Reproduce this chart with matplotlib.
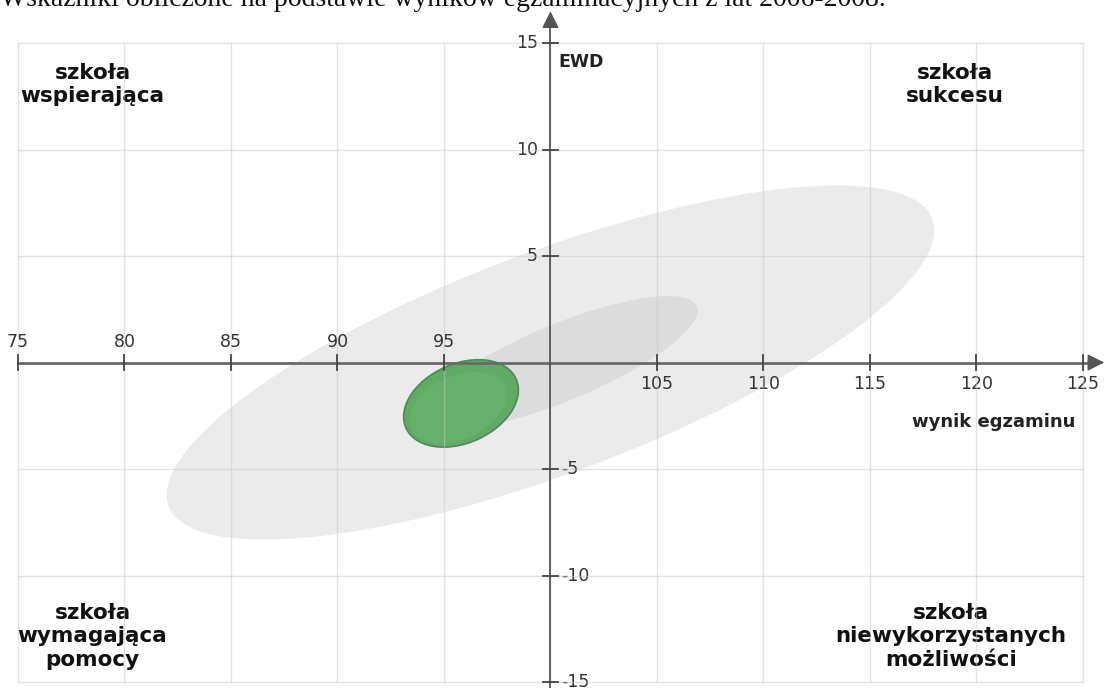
import matplotlib
matplotlib.use("Agg")
import matplotlib.pyplot as plt
from matplotlib.patches import Ellipse

# Dane
x_ticks = [75, 80, 85, 90, 95, 100, 105, 110, 115, 120, 125]
y_ticks = [-15, -10, -5, 0, 5, 10, 15]

# elipsy: 95% szkół, 50% szkół, szkoła
ell_x = [100.0, 100.5, 95.8]
ell_y = [0.0, 0.0, -1.92]
ell_w = [38.3, 13.8, 5.66]
ell_h = [10.4, 3.6, 3.72]
ell_angle = [20.6, 22.5, 24.0]
ell_colors = ['#ebebeb', '#dcdcdc', '#60aa64']

quadrant_labels = ['szkoła\nwspierająca', 'szkoła\nsukcesu',
                   'szkoła\nwymagająca\npomocy', 'szkoła\nniewykorzystanych\nmożliwości']
quadrant_x = [78.5, 119.0, 78.5, 118.8]
quadrant_y = [13.07, 13.07, -12.86, -12.86]

title = 'Wskaźniki obliczone na podstawie wyników egzaminacyjnych z lat 2006-2008.'

fig = plt.figure(figsize=(11.07, 6.88), dpi=100)
ax = fig.add_axes([0, 0, 1, 1])
ax.set_xlim(74.155, 126.13)
ax.set_ylim(-15.28, 17.02)
ax.axis('off')

# elipsy
for i in range(len(ell_x)):
    ec = 'none'
    if i == 2:
        ec = '#50885a'
    e = Ellipse((ell_x[i], ell_y[i]), ell_w[i], ell_h[i], angle=ell_angle[i],
                facecolor=ell_colors[i], edgecolor=ec, lw=1.2, zorder=1 + i)
    ax.add_patch(e)
# troche jasniejszy srodek zielonej elipsy
ax.add_patch(Ellipse((ell_x[2] - 0.15, ell_y[2] - 0.2), ell_w[2] * 0.85, ell_h[2] * 0.8,
                     angle=ell_angle[2], facecolor='#65b06a', edgecolor='none', zorder=4))

# siatka
for x in x_ticks:
    ax.plot([x, x], [-15, 15], color='#c8c8c8', alpha=0.5, lw=1, zorder=5)
for y in y_ticks:
    ax.plot([75, 125], [y, y], color='#c8c8c8', alpha=0.5, lw=1, zorder=5)

# osie ze strzalkami
ax.plot([75, 125.6], [0, 0], color='#6a6a6a', lw=2, zorder=6)
ax.plot([100, 100], [-15.3, 16.0], color='#555555', lw=1.3, zorder=6)
ax.annotate('', xy=(126.13, 0), xytext=(125.1, 0),
            arrowprops=dict(arrowstyle='-|>', color='#555555', lw=1, mutation_scale=26), zorder=7)
ax.annotate('', xy=(100, 16.62), xytext=(100, 15.6),
            arrowprops=dict(arrowstyle='-|>', color='#555555', lw=1, mutation_scale=26), zorder=7)

# znaczniki i etykiety
for x in x_ticks:
    if x == 100:
        continue
    ax.plot([x, x], [-0.35, 0.35], color='#444444', lw=1.3, zorder=7)
    if x < 100:
        ax.text(x, 0.55, str(x), ha='center', va='bottom', fontsize=12.5, color='#333333')
    else:
        ax.text(x, -0.6, str(x), ha='center', va='top', fontsize=12.5, color='#333333')
for y in y_ticks:
    if y == 0:
        continue
    ax.plot([99.65, 100.35], [y, y], color='#444444', lw=1.3, zorder=7)
    if y > 0:
        ax.text(99.4, y, str(y), ha='right', va='center', fontsize=12.5, color='#333333')
    else:
        ax.text(100.5, y, str(y), ha='left', va='center', fontsize=12.5, color='#333333')

ax.text(100.35, 14.1, 'EWD', ha='left', va='center', fontsize=12.5, fontweight='bold', color='#222222')
ax.text(124.65, -2.8, 'wynik egzaminu', ha='right', va='center', fontsize=13,
        fontweight='bold', color='#222222')

for i in range(len(quadrant_labels)):
    ax.text(quadrant_x[i], quadrant_y[i], quadrant_labels[i], ha='center', va='center',
            fontsize=15.5, fontweight='bold', color='#111111', linespacing=1.2)

fig.text(0.0, 1 - 5.5 / 688, title, ha='left', va='baseline', fontsize=20,
         family='Liberation Serif', color='#111111')

fig.savefig('out.png', dpi=100)
